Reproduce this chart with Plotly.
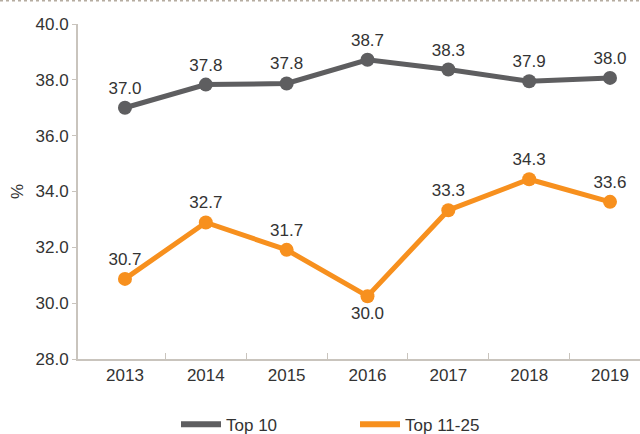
import plotly.graph_objects as go

years = [2013, 2014, 2015, 2016, 2017, 2018, 2019]
top10 = [37.0, 37.83, 37.87, 38.72, 38.37, 37.95, 38.07]
top11_25 = [30.87, 32.89, 31.91, 30.25, 33.33, 34.44, 33.63]
top10_labels = ["37.0", "37.8", "37.8", "38.7", "38.3", "37.9", "38.0"]
top11_25_labels = ["30.7", "32.7", "31.7", "30.0", "33.3", "34.3", "33.6"]
top11_25_pos = ["top center", "top center", "top center", "bottom center",
                "top center", "top center", "top center"]
series_names = ["Top 10", "Top 11-25"]
y_ticks = [28, 30, 32, 34, 36, 38, 40]

GRAY = "#5e5e60"
ORANGE = "#f7901e"
AXIS = "#c9c4bd"
TEXT = "#333333"
FONT = "Liberation Sans, Arial, sans-serif"
FS = 17

fig = go.Figure()
fig.add_trace(go.Scatter(
    x=years, y=top10, mode="lines+markers+text", text=top10_labels,
    textposition="top center", textfont=dict(size=FS, color=TEXT, family=FONT),
    line=dict(color=GRAY, width=5), marker=dict(size=14, color=GRAY),
    showlegend=False, cliponaxis=False))
fig.add_trace(go.Scatter(
    x=years, y=top11_25, mode="lines+markers+text", text=top11_25_labels,
    textposition=top11_25_pos, textfont=dict(size=FS, color=TEXT, family=FONT),
    line=dict(color=ORANGE, width=5), marker=dict(size=14, color=ORANGE),
    showlegend=False, cliponaxis=False))
# legend entries (line only)
fig.add_trace(go.Scatter(x=[None], y=[None], mode="lines", name=series_names[0],
                         line=dict(color=GRAY, width=6)))
fig.add_trace(go.Scatter(x=[None], y=[None], mode="lines", name=series_names[1],
                         line=dict(color=ORANGE, width=6)))

fig.update_layout(
    width=640, height=434,
    margin=dict(l=78, r=0, t=24, b=75, autoexpand=False),
    paper_bgcolor="white", plot_bgcolor="white",
    font=dict(family=FONT, size=FS, color=TEXT),
    showlegend=True,
    legend=dict(orientation="h", x=(186 - 78 - 10) / 562, xanchor="left",
                y=-0.196, yanchor="middle",
                font=dict(size=FS, color=TEXT), entrywidth=124, itemwidth=40),
    xaxis=dict(range=[2012.419, 2019.371], tickmode="array", tickvals=years,
               ticktext=[str(y) for y in years], showgrid=False, zeroline=False,
               showline=True, linecolor=AXIS, linewidth=2, ticks="",
               tickfont=dict(size=FS, color=TEXT),
               minor=dict(tickmode="array", tickvals=[y + 0.5 for y in years[:-1]],
                          ticks="inside", ticklen=6, tickcolor=AXIS, tickwidth=1,
                          showgrid=False)),
    yaxis=dict(range=[28, 40], tickmode="array", tickvals=y_ticks,
               ticktext=[f"{v:.1f}" for v in y_ticks], showgrid=False, zeroline=False,
               showline=True, linecolor=AXIS, linewidth=2, ticks="outside",
               ticklen=4, tickcolor=AXIS, tickwidth=1,
               tickfont=dict(size=FS, color=TEXT),
               title=dict(text="%", font=dict(size=FS, color=TEXT), standoff=8)),
    shapes=[dict(type="line", xref="paper", yref="paper", x0=-78/562, x1=1,
                 y0=1 + 23.5/335, y1=1 + 23.5/335,
                 line=dict(color="#b5aca0", width=2, dash="dot"))],
)

fig.write_html("out.html", config={"displayModeBar": False},
               post_script="document.body.style.margin='0';document.body.style.overflow='hidden';")
